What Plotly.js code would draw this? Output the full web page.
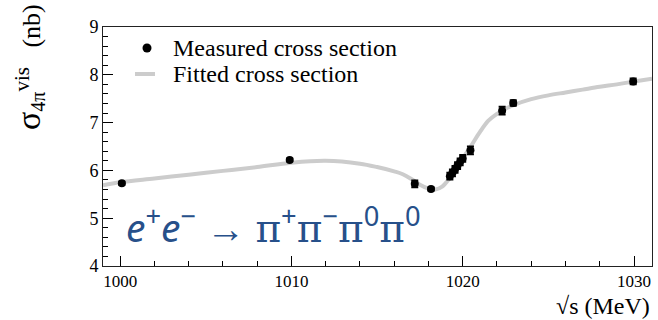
<!DOCTYPE html>
<html>
<head>
<meta charset="utf-8">
<script src="https://cdn.plot.ly/plotly-3.0.1.min.js"></script>
<style>
html,body{margin:0;padding:0;background:#fff;}
#chart{width:658px;height:320px;}
</style>
</head>
<body>
<div id="chart"></div>
<script>
// Measured cross section
const measuredEnergy = [1000.1, 1009.9, 1017.2, 1018.15, 1019.25, 1019.4, 1019.55, 1019.7, 1019.85, 1020.0, 1020.45, 1022.3, 1022.95, 1029.95];
const measuredSigma  = [5.73, 6.22, 5.72, 5.61, 5.88, 5.95, 6.02, 6.10, 6.18, 6.25, 6.42, 7.25, 7.41, 7.86];
const measuredError  = [0.03, 0.03, 0.07, 0.03, 0.07, 0.07, 0.07, 0.07, 0.07, 0.07, 0.08, 0.08, 0.06, 0.06];

// Fitted cross section
const fitEnergy = [999.0, 1000, 1002, 1004, 1006, 1008, 1010, 1012, 1014, 1015, 1016, 1016.5, 1017, 1017.5, 1018, 1018.4, 1018.8, 1019.2, 1019.6, 1020, 1020.5, 1021, 1021.5, 1022, 1022.5, 1023, 1024, 1025, 1026, 1027, 1028, 1029, 1030, 1031.05];
const fitSigma  = [5.69, 5.75, 5.83, 5.91, 5.99, 6.07, 6.16, 6.20, 6.14, 6.07, 5.98, 5.92, 5.82, 5.70, 5.62, 5.60, 5.66, 5.82, 6.03, 6.25, 6.52, 6.80, 7.04, 7.18, 7.29, 7.37, 7.49, 7.57, 7.63, 7.69, 7.75, 7.80, 7.86, 7.92];

const xTicks = [1000, 1010, 1020, 1030];
const yTicks = [4, 5, 6, 7, 8, 9];
const legendLabels = ['Measured cross section', 'Fitted cross section'];

const serif = "Liberation Serif, Times New Roman, serif";
const fitColor = '#cccccc';

const traces = [
  {
    x: fitEnergy, y: fitSigma, type: 'scatter', mode: 'lines',
    name: legendLabels[1],
    line: {color: fitColor, width: 4, shape: 'spline', smoothing: 1},
    hoverinfo: 'skip'
  },
  {
    x: measuredEnergy, y: measuredSigma, type: 'scatter', mode: 'markers',
    name: legendLabels[0],
    marker: {color: '#000', size: 8, symbol: 'circle'},
    error_y: {type: 'data', array: measuredError, visible: true, color: '#000', thickness: 2, width: 3.5}
  }
];

// plot area in pixels: x 103..652, y 27..266
const px = v => (v - 103) / 549;
const py = v => (266 - v) / 239;

const layout = {
  width: 658, height: 320,
  margin: {l: 103, r: 6, t: 27, b: 54},
  paper_bgcolor: '#ffffff', plot_bgcolor: '#ffffff',
  showlegend: false,
  xaxis: {
    range: [999.0, 1031.05], tickvals: xTicks, ticktext: xTicks.map(String),
    ticks: 'inside', ticklen: 10, tickwidth: 1, tickcolor: '#000',
    minor: {dtick: 2, tick0: 1000, ticks: 'inside', ticklen: 5, tickcolor: '#000'},
    showline: true, linecolor: '#222', linewidth: 1, mirror: true,
    showgrid: false, zeroline: false,
    tickfont: {family: serif, size: 17, color: '#000'}
  },
  yaxis: {
    range: [4, 9], tickvals: yTicks, ticktext: yTicks.map(String),
    ticks: 'inside', ticklen: 10, tickwidth: 1, tickcolor: '#000',
    minor: {dtick: 0.2, tick0: 4, ticks: 'inside', ticklen: 5, tickcolor: '#000'},
    showline: true, linecolor: '#222', linewidth: 1, mirror: true,
    showgrid: false, zeroline: false,
    tickfont: {family: serif, size: 18, color: '#000'}
  },
  shapes: [
    {type: 'circle', xref: 'paper', yref: 'paper', x0: px(142.5), x1: px(151.5), y0: py(52.5), y1: py(43.5),
     fillcolor: '#000', line: {color: '#000', width: 0}},
    {type: 'line', xref: 'paper', yref: 'paper', x0: px(135), x1: px(155), y0: py(74), y1: py(74),
     line: {color: fitColor, width: 4}}
  ],
  annotations: [
    {
      xref: 'paper', yref: 'paper', x: px(171), y: py(48), xanchor: 'left', yanchor: 'middle',
      showarrow: false, text: legendLabels[0],
      font: {family: serif, size: 24, color: '#000'}
    },
    {
      xref: 'paper', yref: 'paper', x: px(171), y: py(74), xanchor: 'left', yanchor: 'middle',
      showarrow: false, text: legendLabels[1],
      font: {family: serif, size: 24, color: '#000'}
    },
    {
      xref: 'paper', yref: 'paper', x: px(29), y: py(67), xanchor: 'center', yanchor: 'middle',
      textangle: -90, showarrow: false,
      text: '<span style="font-size:34px">σ</span><sub><span style="font-size:20px">4π</span></sub><sup><span style="font-size:21px">vis</span></sup>   (nb)',
      font: {family: serif, size: 26, color: '#000'}
    },
    {
      xref: 'paper', yref: 'paper', x: px(651), y: py(320), xanchor: 'right', yanchor: 'bottom',
      showarrow: false, text: '√s (MeV)', borderpad: 0,
      font: {family: serif, size: 24, color: '#000'}
    },
    {
      xref: 'x', yref: 'y', x: 1000.25, y: 4.85, xanchor: 'left', yanchor: 'middle',
      showarrow: false,
      text: '<i>e</i><sup>+</sup><i>e</i><sup>−</sup> → <span style="font-family:DejaVu Serif">π</span><sup>+</sup><span style="font-family:DejaVu Serif">π</span><sup>−</sup><span style="font-family:DejaVu Serif">π</span><sup>0</sup><span style="font-family:DejaVu Serif">π</span><sup>0</sup>',
      font: {family: 'Noto Sans, sans-serif', size: 39, color: '#27508a'}
    }
  ]
};

Plotly.newPlot('chart', traces, layout, {displayModeBar: false, staticPlot: true});
</script>
</body>
</html>
